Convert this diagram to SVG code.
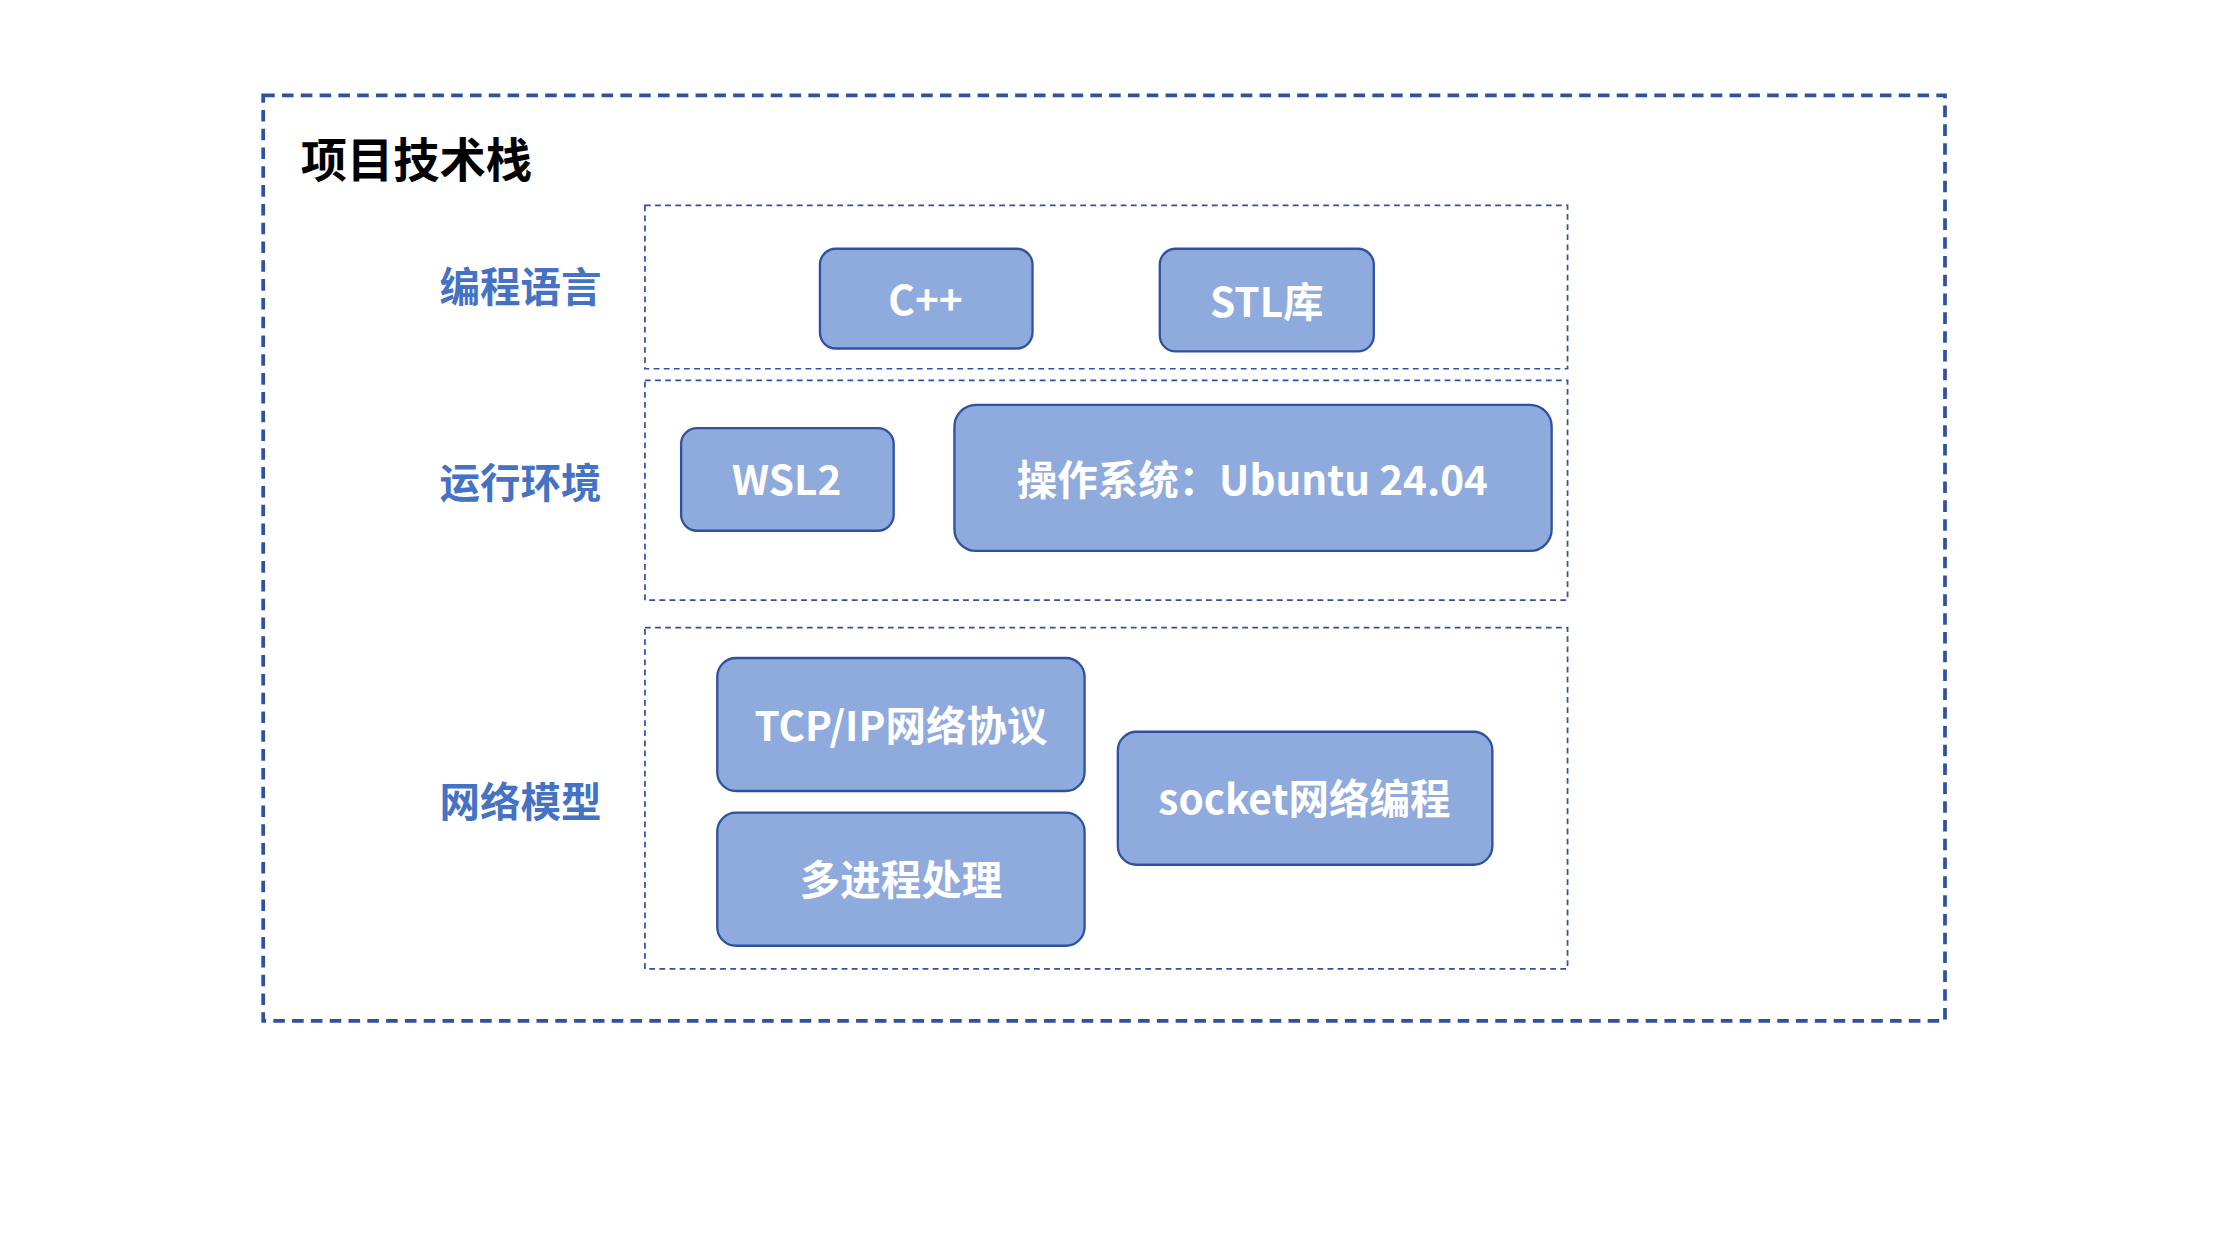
<svg xmlns="http://www.w3.org/2000/svg" width="2240" height="1260" viewBox="0 0 2240 1260">
<style>
.sec{fill:none;stroke:#2F52A0;stroke-width:1.2;stroke-dasharray:4 3}
.node rect{fill:#8FAADC;stroke:#2F52A0;stroke-width:1.6}
.node text{fill:#fff;font-family:"Noto Sans CJK SC","Noto Sans",sans-serif;font-weight:bold;font-size:28px;text-anchor:middle;dominant-baseline:central}
.lab{fill:#4472C4;font-family:"Noto Sans CJK SC",sans-serif;font-weight:bold;font-size:28px;text-anchor:middle;dominant-baseline:central}
</style>
<rect width="2240" height="1260" fill="#fff"/>
<g transform="scale(1.4461)">
<g id="outer">
<rect x="182" y="66" width="1163" height="640" fill="none" stroke="#2F52A0" stroke-width="2.6" stroke-dasharray="8 5"/>
<text x="208" y="108" font-family="Noto Sans CJK SC,sans-serif" font-weight="bold" font-size="32" dominant-baseline="central" fill="#000">项目技术栈</text>
</g>
<g id="sections">
<rect class="sec" x="446" y="142" width="638" height="113"/>
<rect class="sec" x="446" y="263" width="638" height="152"/>
<rect class="sec" x="446" y="434" width="638" height="236"/>
<text class="lab" x="360" y="197">编程语言</text>
<text class="lab" x="360" y="332">运行环境</text>
<text class="lab" x="360" y="553">网络模型</text>
</g>
<g id="cpp" class="node"><rect x="567" y="172" width="147" height="69" rx="11"/><text x="640" y="206">C++</text></g>
<g id="stl" class="node"><rect x="802" y="172" width="148" height="71" rx="11"/><text x="876" y="207">STL库</text></g>
<g id="wsl2" class="node"><rect x="471" y="296" width="147" height="71" rx="11"/><text x="544" y="330">WSL2</text></g>
<g id="os" class="node"><rect x="660" y="280" width="413" height="101" rx="15"/><text x="866" y="330">操作系统：Ubuntu 24.04</text></g>
<g id="tcp" class="node"><rect x="496" y="455" width="254" height="92" rx="13"/><text x="623" y="500">TCP/IP网络协议</text></g>
<g id="proc" class="node"><rect x="496" y="562" width="254" height="92" rx="13"/><text x="623" y="607">多进程处理</text></g>
<g id="socket" class="node"><rect x="773" y="506" width="259" height="92" rx="13"/><text x="902" y="551">socket网络编程</text></g>
<g id="connectors"/>
</g>
</svg>
